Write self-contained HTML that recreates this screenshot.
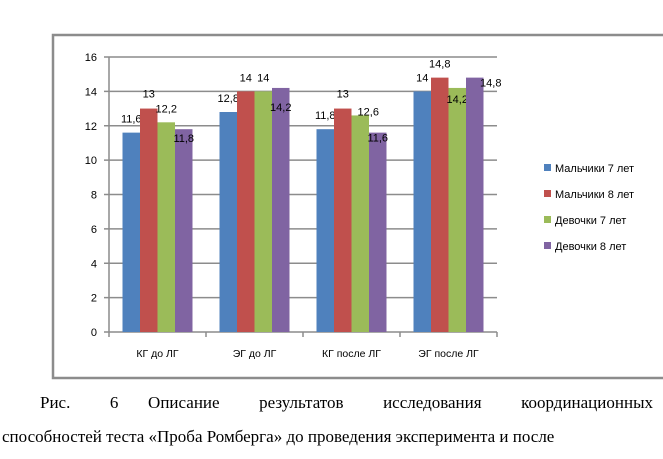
<!DOCTYPE html>
<html><head><meta charset="utf-8"><style>
body{margin:0;background:#fff;width:663px;height:459px;overflow:hidden;position:relative}
svg{position:absolute;left:0;top:0}
.cap{position:absolute;font-family:"Liberation Serif","DejaVu Serif",serif;font-size:17px;color:#000;white-space:nowrap}
</style></head><body>
<svg width="663" height="459">
<rect x="53" y="35" width="620" height="343" fill="#fff" stroke="#8c8c8c" stroke-width="2.5"/>
<g id="plot"></g>
</svg>
<div class="cap" style="left:40px;top:393px;width:613px;text-align:justify;text-align-last:justify">Рис. &nbsp;&nbsp;&nbsp;6 &nbsp;&nbsp;Описание &nbsp;&nbsp;&nbsp;результатов &nbsp;&nbsp;&nbsp;исследования &nbsp;&nbsp;&nbsp;координационных</div>
<div class="cap" style="left:2px;top:427px">способностей теста «Проба Ромберга» до проведения эксперимента и после</div>
<script>
const categories=["КГ до ЛГ","ЭГ до ЛГ","КГ после ЛГ","ЭГ после ЛГ"];
const seriesNames=["Мальчики 7 лет","Мальчики 8 лет","Девочки 7 лет","Девочки 8 лет"];
const boys7=[11.6,12.8,11.8,14];
const boys8=[13,14,13,14.8];
const girls7=[12.2,14,12.6,14.2];
const girls8=[11.8,14.2,11.6,14.8];
const labels=[["11,6","12,8","11,8","14"],["13","14","13","14,8"],["12,2","14","12,6","14,2"],["11,8","14,2","11,6","14,8"]];
const yTicks=[0,2,4,6,8,10,12,14,16];
const series=[boys7,boys8,girls7,girls8];
const colors=["#4F81BD","#C0504D","#9BBB59","#8064A2"];
// label offsets (styling only)
const ldx=[[0,0,0,0],[0,0,0,0],[0,0,8,0],[0,0,0,16]];
const ldy=[[-14,-14,-14,-14],[-15,-14,-15,-14],[-14,-14,-4,11],[9,19,5,5]];
const NS="http://www.w3.org/2000/svg";
const g=document.getElementById('plot');
const X0=109,X1=497,Y0=332,Y1=57,YMAX=16;
const yS=v=>Y0-(v/YMAX)*(Y0-Y1);
const gw=(X1-X0)/categories.length, bw=17.5;
function mk(t,a,txt){const e=document.createElementNS(NS,t);for(const k in a)e.setAttribute(k,a[k]);if(txt!==undefined)e.textContent=txt;g.appendChild(e);return e;}
yTicks.forEach(v=>{
 const l=mk('line',{x1:X0-5,x2:X1,y1:yS(v),y2:yS(v),stroke:'#8c8c8c','stroke-width':1.5});
 
 
 const t=mk('text',{x:X0-12,y:yS(v)+4,'text-anchor':'end','font-family':'Liberation Sans, sans-serif','font-size':11},String(v));
 
 
});
const ax=mk('line',{x1:X0,x2:X0,y1:Y1,y2:Y0,stroke:'#8c8c8c','stroke-width':1.5});


for(let i=0;i<=categories.length;i++){
 const tk=mk('line',{x1:X0+i*gw,x2:X0+i*gw,y1:Y0,y2:Y0+5,stroke:'#8c8c8c','stroke-width':1.5});
 
 
}
categories.forEach((c,i)=>{
 const gx=X0+i*gw+(gw-4*bw)/2;
 series.forEach((s,j)=>{
  const x=gx+j*bw,y=yS(s[i]);
  const r=mk('rect',{x:x,y:y,width:bw,height:Y0-y,fill:colors[j]});
  
  
  const t=mk('text',{x:x+bw/2+ldx[j][i],y:y+ldy[j][i]+4,'text-anchor':'middle','font-family':'Liberation Sans, sans-serif','font-size':11},labels[j][i]);
  
  
 });
 const ct=mk('text',{x:X0+i*gw+gw/2,y:357,'text-anchor':'middle','font-family':'Liberation Sans, sans-serif','font-size':10.5},c);
 
 
});
seriesNames.forEach((n,j)=>{
 const yy=168+j*26;
 const sq=mk('rect',{x:544,y:yy-4,width:7,height:7,fill:colors[j]});
 
 
 const t=mk('text',{x:555,y:yy+4,'font-family':'Liberation Sans, sans-serif','font-size':11},n);
 
 
});
</script>
</body></html>
